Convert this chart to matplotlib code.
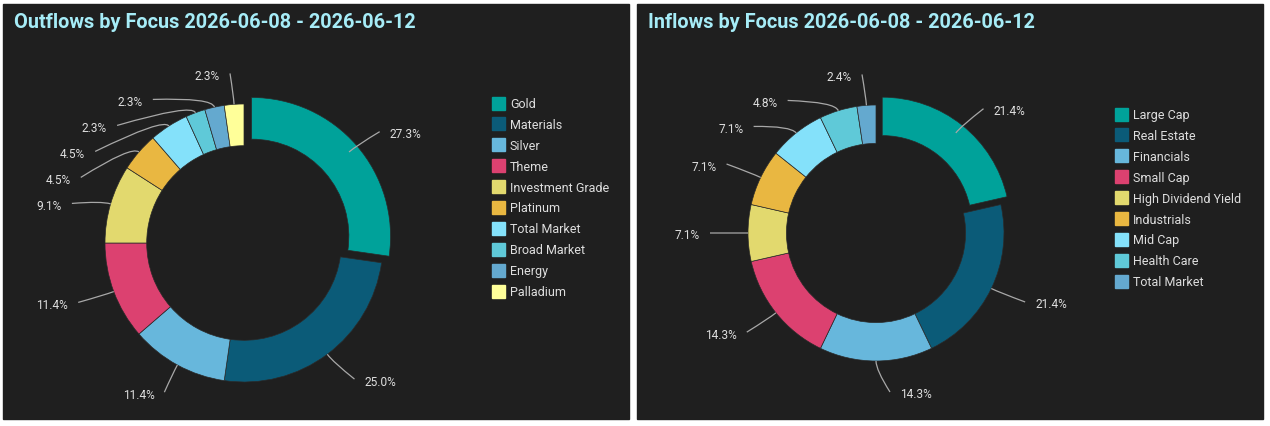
import matplotlib
matplotlib.use("Agg")
import numpy as np
import matplotlib.pyplot as plt
from matplotlib.patches import Rectangle, PathPatch
from matplotlib.path import Path

W, H = 1270, 426
BG = "#1f1f1f"
TITLE_COLOR = "#a6ecf7"
TEXT_COLOR = "#dedede"
LINE_COLOR = "#a8a8a8"
FONT = ["Roboto", "DejaVu Sans"]

colors = ["#00a29a", "#0b5b78", "#67b7dc", "#dc4170", "#e2d96e",
          "#e9b741", "#84e1fa", "#5fc9d8", "#64a9cf", "#ffff99"]

out_title = "Outflows by Focus 2026-06-08 - 2026-06-12"
out_labels = ["Gold", "Materials", "Silver", "Theme", "Investment Grade",
              "Platinum", "Total Market", "Broad Market", "Energy", "Palladium"]
out_values = [12, 11, 5, 5, 4, 2, 2, 1, 1, 1]

in_title = "Inflows by Focus 2026-06-08 - 2026-06-12"
in_labels = ["Large Cap", "Real Estate", "Financials", "Small Cap", "High Dividend Yield",
             "Industrials", "Mid Cap", "Health Care", "Total Market"]
in_values = [9, 9, 6, 6, 3, 3, 3, 2, 1]

fig = plt.figure(figsize=(W / 100, H / 100), dpi=100, facecolor="white")


def fig_rect(x0, y0, x1, y1):
    return [x0 / W, 1 - y1 / H, (x1 - x0) / W, (y1 - y0) / H]


def draw_panel(panel, center, R, title, labels, values, legend_at):
    x0, y0, x1, y1 = panel
    cx, cy = center
    fig.add_artist(Rectangle((x0 / W, 1 - y1 / H), (x1 - x0) / W, (y1 - y0) / H,
                             transform=fig.transFigure, color=BG, zorder=0))
    fig.text((x0 + 11) / W, 1 - 22 / H, title, fontsize=14.3, fontweight="bold",
             color=TITLE_COLOR, va="center", ha="left", family=FONT)

    ax = fig.add_axes(fig_rect(*panel))
    ax.patch.set_alpha(0)
    explode = [10 / R] + [0] * (len(values) - 1)
    wedges, _ = ax.pie(values, colors=colors[:len(values)], startangle=90,
                       counterclock=False, radius=1, explode=explode,
                       wedgeprops=dict(width=0.3, edgecolor="#2a2a2a", linewidth=0.5))
    ax.set_aspect("auto")
    ax.set_xlim((x0 - cx) / R, (x1 - cx) / R)
    ax.set_ylim((cy - y1) / R, (cy - y0) / R)
    ax.set_axis_off()

    # percent labels, spread vertically where they collide
    total = sum(values)
    items = []
    for w, v in zip(wedges, values):
        a = np.deg2rad((w.theta1 + w.theta2) / 2)
        c, s = np.cos(a), np.sin(a)
        items.append(dict(c=c, s=s, side=1 if c >= -1e-6 else -1,
                          y=(1 + 31 / R) * s, text=f"{v / total * 100:.1f}%"))
    gap = 26 / R
    L = 14 / R
    for side in (1, -1):
        grp = sorted([it for it in items if it["side"] == side], key=lambda d: -d["y"])
        shifted = False
        for prev, cur in zip(grp, grp[1:]):
            if cur["y"] > prev["y"] - gap:
                cur["y"] = prev["y"] - gap
                shifted = True
        for it in grp:
            if shifted:
                r1 = 1 + 24 / R
                it["x"] = side * (np.sqrt(max(r1 ** 2 - it["y"] ** 2, 0)) + L)
            else:
                it["x"] = (1 + 22 / R) * it["c"] + side * L

    pad = 10 / R
    for it in items:
        side, xe, y = it["side"], it["x"], it["y"]
        p0 = (it["c"], it["s"])
        p1 = (1.07 * it["c"], 1.07 * it["s"])
        path = Path([p0, p1, (xe, y)], [Path.MOVETO, Path.CURVE3, Path.CURVE3])
        ax.add_patch(PathPatch(path, facecolor="none", edgecolor=LINE_COLOR, lw=0.9, zorder=5))
        ax.text(xe + side * pad, y - 3 / R, it["text"], ha="left" if side > 0 else "right",
                va="center", fontsize=8.6, color=TEXT_COLOR, family=FONT)

    # legend
    lx, ly = legend_at
    for i, (lab, col) in enumerate(zip(labels, colors)):
        yc = ly + i * 20.9
        fig.add_artist(Rectangle((lx / W, 1 - (yc + 6.5) / H), 13 / W, 13 / H,
                                 transform=fig.transFigure, color=col))
        fig.text((lx + 18) / W, 1 - (yc + 1.5) / H, lab, fontsize=9, color=TEXT_COLOR,
                 va="center", ha="left", family=FONT)


draw_panel((3, 4, 629, 419), (244, 243), 139, out_title, out_labels, out_values, (492, 103))
draw_panel((637, 4, 1263, 419), (876, 233), 128, in_title, in_labels, in_values, (1115, 114))

fig.savefig("out.png", dpi=100, facecolor="white")
